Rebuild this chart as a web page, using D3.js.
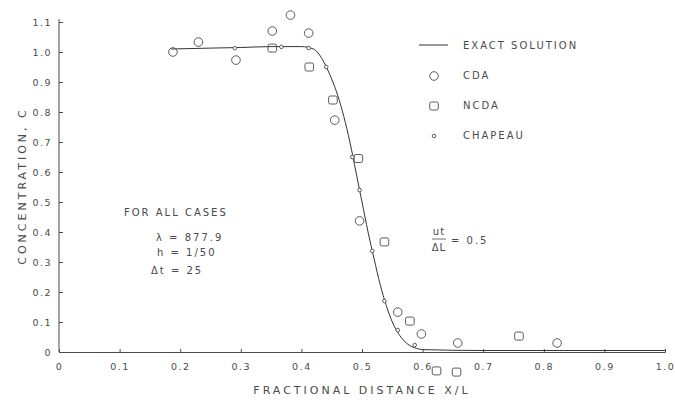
<!DOCTYPE html>
<html>
<head>
<meta charset="utf-8">
<script src="https://cdn.jsdelivr.net/npm/d3@7"></script>
<style>
  body { margin: 0; background: #fff; }
  svg { display: block; }
  text { font-family: 'DejaVu Sans', sans-serif; fill: #4a4a4a; }
  .tick-label { font-size: 9.5px; letter-spacing: 1.5px; }
  .axis-title { font-size: 11px; letter-spacing: 3px; }
  .note { font-size: 10px; letter-spacing: 2px; }
</style>
</head>
<body>
<svg id="chart" width="675" height="408"></svg>
<script>
// exact solution
const exactX = [0.185, 0.25, 0.30, 0.35, 0.40, 0.42, 0.43, 0.44, 0.45, 0.46, 0.47, 0.48, 0.49, 0.50,
  0.51, 0.52, 0.53, 0.54, 0.55, 0.56, 0.57, 0.58, 0.59, 0.60, 0.70, 0.80, 0.90, 1.00];
const exactC = [1.01, 1.013, 1.015, 1.018, 1.018, 1.01, 0.99, 0.955, 0.91, 0.855, 0.785, 0.70, 0.60, 0.50,
  0.40, 0.31, 0.225, 0.155, 0.10, 0.062, 0.036, 0.02, 0.012, 0.008, 0.005, 0.005, 0.005, 0.005];

// CDA (circles)
const cdaX = [0.188, 0.23, 0.292, 0.352, 0.382, 0.412, 0.455, 0.496, 0.559, 0.598, 0.658, 0.822];
const cdaC = [1.00, 1.033, 0.973, 1.07, 1.123, 1.063, 0.773, 0.437, 0.133, 0.06, 0.03, 0.03];

// NCDA (squares)
const ncdaX = [0.352, 0.413, 0.452, 0.494, 0.537, 0.579, 0.623, 0.656, 0.759];
const ncdaC = [1.013, 0.95, 0.84, 0.645, 0.367, 0.103, -0.063, -0.067, 0.053];

// Chapeau (small dots)
const chapX = [0.29, 0.367, 0.412, 0.441, 0.484, 0.496, 0.517, 0.537, 0.559, 0.587];
const chapC = [1.013, 1.017, 1.013, 0.95, 0.65, 0.54, 0.337, 0.17, 0.073, 0.023];

const xTicks = [0, 0.1, 0.2, 0.3, 0.4, 0.5, 0.6, 0.7, 0.8, 0.9, 1.0];
const yTicks = [0, 0.1, 0.2, 0.3, 0.4, 0.5, 0.6, 0.7, 0.8, 0.9, 1.0, 1.1];

const legendItems = ['EXACT SOLUTION', 'CDA', 'NCDA', 'CHAPEAU'];

const ink = '#4a4a4a';
const svg = d3.select('#chart');

const x = d3.scaleLinear().domain([0, 1]).range([59, 665]);
const y = d3.scaleLinear().domain([0, 1.1]).range([352, 22]);
const fmt = v => v === 0 ? '0' : d3.format('.1f')(v);

/* AXES */
const yAxis = svg.append('g')
  .attr('transform', `translate(${x(0)},0)`)
  .call(d3.axisLeft(y).tickValues(yTicks).tickSize(-4).tickPadding(7).tickFormat(fmt));
yAxis.select('.domain').attr('d', `M0,${y(0)}V${y(1.1) - 3}`);

const xAxis = svg.append('g')
  .attr('transform', `translate(0,${y(0)})`)
  .call(d3.axisBottom(x).tickValues(xTicks).tickSize(-3).tickPadding(11).tickFormat(fmt));

[xAxis, yAxis].forEach(ax => {
  ax.select('.domain').attr('stroke', ink).attr('stroke-width', 1);
  ax.selectAll('.tick line').attr('stroke', ink);
  ax.selectAll('.tick text').attr('class', 'tick-label').attr('fill', ink).style('font-family', null);
  ax.attr('font-size', null).attr('font-family', null);
});

/* AXIS TITLES */
svg.append('text')
  .attr('class', 'axis-title')
  .attr('transform', 'translate(26,186) rotate(-90)')
  .attr('text-anchor', 'middle')
  .text('CONCENTRATION, C');

svg.append('text')
  .attr('class', 'axis-title')
  .attr('x', 362).attr('y', 394)
  .attr('text-anchor', 'middle')
  .text('FRACTIONAL DISTANCE X/L');

/* EXACT LINE */
const line = d3.line()
  .x(d => x(d[0]))
  .y(d => y(d[1]))
  .curve(d3.curveMonotoneX);

svg.append('path')
  .datum(d3.zip(exactX, exactC))
  .attr('d', line)
  .attr('fill', 'none')
  .attr('stroke', '#333')
  .attr('stroke-width', 1);

/* MARKERS */
svg.append('g').selectAll('circle')
  .data(d3.zip(cdaX, cdaC))
  .enter().append('circle')
  .attr('cx', d => x(d[0])).attr('cy', d => y(d[1]))
  .attr('r', 4.3)
  .attr('fill', 'none').attr('stroke', ink).attr('stroke-width', 0.9);

svg.append('g').selectAll('rect')
  .data(d3.zip(ncdaX, ncdaC))
  .enter().append('rect')
  .attr('x', d => x(d[0]) - 4.3).attr('y', d => y(d[1]) - 4)
  .attr('width', 8.6).attr('height', 8)
  .attr('rx', 1.8)
  .attr('fill', 'none').attr('stroke', ink).attr('stroke-width', 0.9);

svg.append('g').selectAll('circle')
  .data(d3.zip(chapX, chapC))
  .enter().append('circle')
  .attr('cx', d => x(d[0])).attr('cy', d => y(d[1]))
  .attr('r', 1.8)
  .attr('fill', '#fff').attr('stroke', ink).attr('stroke-width', 0.9);

/* LEGEND */
const legend = svg.append('g').attr('transform', 'translate(419,45)');
legend.selectAll('text')
  .data(legendItems)
  .enter().append('text')
  .attr('class', 'note')
  .attr('x', 44)
  .attr('y', (d, i) => i * 30 + 4)
  .text(d => d);
legend.append('line')
  .attr('x1', 0).attr('x2', 29).attr('y1', 0).attr('y2', 0)
  .attr('stroke', '#333').attr('stroke-width', 1);
legend.append('circle')
  .attr('cx', 15).attr('cy', 31).attr('r', 4.3)
  .attr('fill', 'none').attr('stroke', ink).attr('stroke-width', 0.9);
legend.append('rect')
  .attr('x', 10.7).attr('y', 57).attr('width', 8.6).attr('height', 8).attr('rx', 1.8)
  .attr('fill', 'none').attr('stroke', ink).attr('stroke-width', 0.9);
legend.append('circle')
  .attr('cx', 15).attr('cy', 91).attr('r', 1.8)
  .attr('fill', '#fff').attr('stroke', ink).attr('stroke-width', 0.9);

/* NOTES */
const notes = svg.append('g');
notes.append('text').attr('class', 'note').attr('x', 124).attr('y', 216).text('FOR ALL CASES');
notes.append('text').attr('class', 'note').attr('x', 156).attr('y', 241).text('λ  = 877.9');
notes.append('text').attr('class', 'note').attr('x', 157).attr('y', 256).text('h  = 1/50');
notes.append('text').attr('class', 'note').attr('x', 151).attr('y', 274).text('Δt  = 25');

notes.append('text').attr('class', 'note').attr('x', 439).attr('y', 235)
  .attr('text-anchor', 'middle').style('letter-spacing', '1px').text('ut');
notes.append('line').attr('x1', 432).attr('x2', 446).attr('y1', 239).attr('y2', 239)
  .attr('stroke', ink).attr('stroke-width', 0.8);
notes.append('text').attr('class', 'note').attr('x', 439).attr('y', 251)
  .attr('text-anchor', 'middle').style('letter-spacing', '1px').text('ΔL');
notes.append('text').attr('class', 'note').attr('x', 451).attr('y', 244).text('= 0.5');
</script>
</body>
</html>
